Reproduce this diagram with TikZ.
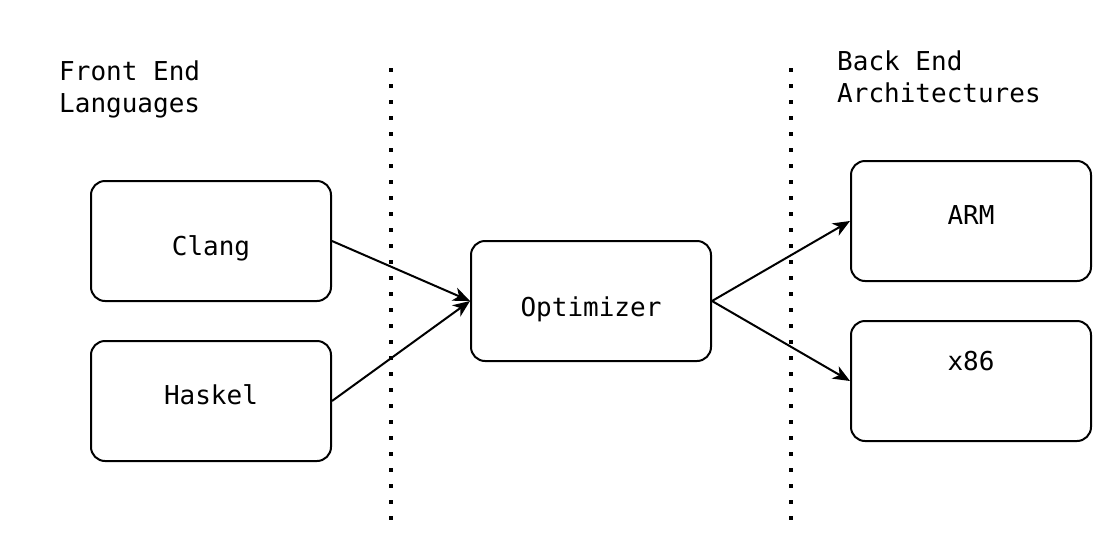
\documentclass[tikz,border=0pt]{standalone}
\usepackage{fontspec}
\setmonofont{DejaVu Sans Mono}
\usepackage{pgf,tikz}
\usetikzlibrary{arrows.meta, positioning}
\tikzstyle{bloque} = [draw, line width=2pt, rounded corners=14pt, minimum width=240pt, minimum height=120pt, inner sep=0pt]
\tikzstyle{etiqueta} = [font=\ttfamily\fontsize{26}{32}\selectfont, inner sep=0pt, anchor=base]
\tikzstyle{titulo} = [font=\ttfamily\fontsize{26}{32}\selectfont, inner sep=0pt, align=left, anchor=base west]
\tikzstyle{flecha} = [line width=2pt, -{Stealth[length=17pt, width=14pt, inset=5pt]}]
\tikzstyle{separador} = [line width=3.5pt, dash pattern=on 3.5pt off 12.5pt]

\begin{document}
\begin{tikzpicture}[x=1pt, y=-1pt]
	\useasboundingbox (0,0) rectangle (1112,552);
	% separadores
	\coordinate (sepA-top) at (391,68);
	\coordinate (sepA-bot) at (391,521);
	\coordinate (sepB-top) at (791,68);
	\coordinate (sepB-bot) at (791,521);
	\draw[separador] (sepA-top) -- (sepA-bot);
	\draw[separador] (sepB-top) -- (sepB-bot);
	% titulos
	\node[titulo] (frontend) at (59,112) {Front End\\Languages};
	\node[titulo] (backend) at (837,102) {Back End\\Architectures};
	% bloques
	\node[bloque] (clang) at (211,241) {};
	\node[bloque] (haskel) at (211,401) {};
	\node[bloque] (optimizer) at (591,301) {};
	\node[bloque] (arm) at (971,221) {};
	\node[bloque] (x86) at (971,381) {};
	\node[etiqueta] (clang-txt) at ([yshift=-14pt]clang.center) {Clang};
	\node[etiqueta] (haskel-txt) at ([yshift=-3pt]haskel.center) {Haskel};
	\node[etiqueta] (optimizer-txt) at ([yshift=-15pt]optimizer.center) {Optimizer};
	\node[etiqueta] (arm-txt) at ([yshift=-3pt]arm.center) {ARM};
	\node[etiqueta] (x86-txt) at ([yshift=11pt]x86.center) {x86};
	% flechas
	\draw[flecha] (clang.east) -- (optimizer.west);
	\draw[flecha] (haskel.east) -- (optimizer.west);
	\draw[flecha] (optimizer.east) -- (arm.west);
	\draw[flecha] (optimizer.east) -- (x86.west);
\end{tikzpicture}
\end{document}
